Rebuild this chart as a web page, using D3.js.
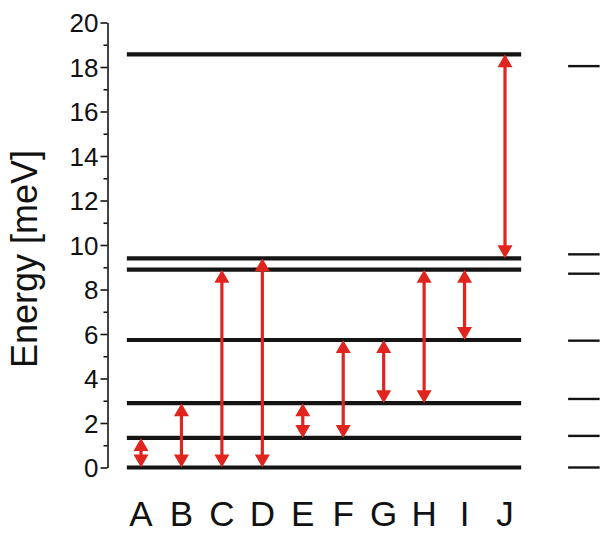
<!DOCTYPE html>
<html>
<head>
<meta charset="utf-8">
<script src="https://cdn.jsdelivr.net/npm/d3@7"></script>
<style>
  html, body { margin: 0; padding: 0; background: #fff; }
  svg { display: block; font-family: Arial, "Liberation Sans", sans-serif; }
</style>
</head>
<body>
<svg id="chart" width="607" height="534"></svg>
<script>
// Transition labels along the bottom
const columns = ["A", "B", "C", "D", "E", "F", "G", "H", "I", "J"];

// Energy levels (meV) drawn as long bars
const levels = [0, 1.33, 2.89, 5.73, 8.89, 9.4, 18.57];

// Reference levels (meV) drawn as short marks on the right
const refLevels = [0, 1.42, 3.08, 5.7, 8.71, 9.58, 18.04];

// Each transition joins two levels (lower, upper)
const lowerE = [0, 0, 0, 0, 1.33, 1.33, 2.89, 2.89, 5.73, 9.4];
const upperE = [1.33, 2.89, 8.89, 9.4, 2.89, 5.73, 5.73, 8.89, 8.89, 18.57];

// Y-axis ticks
const majorTicks = [0, 2, 4, 6, 8, 10, 12, 14, 16, 18, 20];
const minorTicks = [1, 3, 5, 7, 9, 11, 13, 15, 17, 19];

const svg = d3.select("#chart");

const y = d3.scaleLinear().domain([0, 20]).range([467.5, 22.5]);
const xi = d3.scaleLinear().domain([0, 9]).range([141, 505]);
const x = d3.scalePoint().domain(columns).range([141, 505]);

const red = "#e0241e";
const ink = "#141414";

// y axis with major ticks
const axisX = 107.5;
const yAxis = svg.append("g")
  .attr("transform", `translate(${axisX},0)`)
  .call(d3.axisLeft(y).tickValues(majorTicks).tickSize(7).tickSizeOuter(0).tickPadding(2));
yAxis.select(".domain").attr("stroke", ink).attr("stroke-width", 1.6);
yAxis.selectAll(".tick line").attr("stroke", ink).attr("stroke-width", 1.6);
yAxis.selectAll(".tick text")
  .attr("fill", "#111")
  .style("font-size", "26px")
  .attr("dy", "0.36em");

// minor ticks
svg.append("g")
  .attr("transform", `translate(${axisX},0)`)
  .call(d3.axisLeft(y).tickValues(minorTicks).tickSize(4).tickSizeOuter(0).tickFormat(""))
  .call(g => g.select(".domain").remove())
  .call(g => g.selectAll(".tick line").attr("stroke", ink).attr("stroke-width", 1.6));

// axis title
svg.append("text")
  .attr("transform", `translate(37,259) rotate(-90)`)
  .attr("text-anchor", "middle")
  .attr("fill", "#111")
  .style("font-size", "36px")
  .text("Energy [meV]");

// energy levels
svg.append("g").selectAll("line")
  .data(levels)
  .join("line")
  .attr("x1", xi(-0.35))
  .attr("x2", xi(9.4))
  .attr("y1", d => y(d))
  .attr("y2", d => y(d))
  .attr("stroke", ink)
  .attr("stroke-width", 4.2);

// reference marks on the right
svg.append("g").selectAll("line")
  .data(refLevels)
  .join("line")
  .attr("x1", xi(10.56))
  .attr("x2", xi(11.34))
  .attr("y1", d => y(d))
  .attr("y2", d => y(d))
  .attr("stroke", ink)
  .attr("stroke-width", 2.4);

// double-headed transition arrows
const headLen = 13, headHalf = 7.5;
const arrows = columns.map((c, i) => ({ c, lo: lowerE[i], hi: upperE[i] }));
const ag = svg.append("g").selectAll("g").data(arrows).join("g");
ag.append("line")
  .attr("x1", d => x(d.c)).attr("x2", d => x(d.c))
  .attr("y1", d => y(d.hi) + headLen - 1)
  .attr("y2", d => y(d.lo) - headLen + 1)
  .attr("stroke", red)
  .attr("stroke-width", 3.2);
ag.append("path")
  .attr("d", d => {
    const cx = x(d.c), t = y(d.hi), b = y(d.lo);
    return `M${cx},${t} L${cx + headHalf},${t + headLen} L${cx - headHalf},${t + headLen} Z` +
           `M${cx},${b} L${cx + headHalf},${b - headLen} L${cx - headHalf},${b - headLen} Z`;
  })
  .attr("fill", red);

// column labels
svg.append("g").selectAll("text")
  .data(columns)
  .join("text")
  .attr("x", d => x(d))
  .attr("y", 526)
  .attr("text-anchor", "middle")
  .attr("fill", "#111")
  .style("font-size", "35px")
  .text(d => d);
</script>
</body>
</html>
